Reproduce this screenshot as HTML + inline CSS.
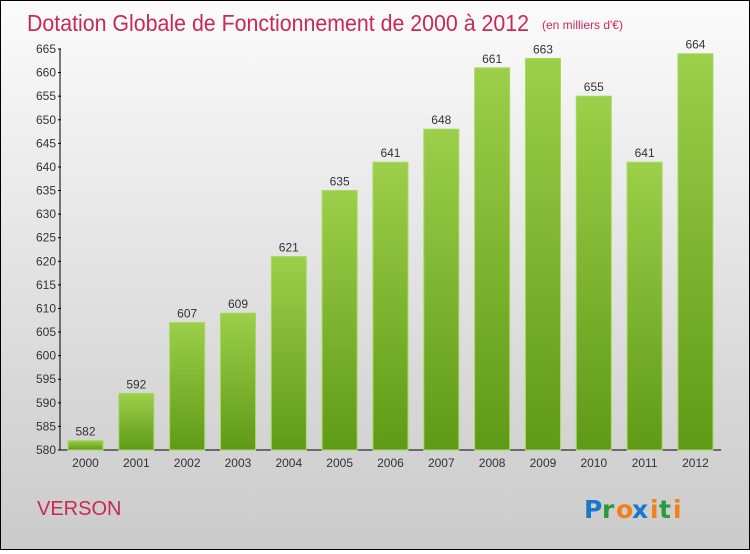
<!DOCTYPE html>
<html><head><meta charset="utf-8"><style>
body{margin:0;width:750px;height:550px;overflow:hidden;font-family:"Liberation Sans",sans-serif}
#wrap{position:relative;width:748px;height:548px;border:1px solid #000;background:linear-gradient(#fbfbfb,#d8d8d8 70%,#cbcbcb)}
</style></head><body>
<div id="wrap">
<svg id="chart" width="748" height="548">
<defs><linearGradient id="g" x1="0" y1="0" x2="0" y2="1"><stop offset="0" stop-color="#9ccf4a"/><stop offset="1" stop-color="#5f9a16"/></linearGradient></defs>
<text x="26" y="30" font-size="23" fill="#c8285a" textLength="502" lengthAdjust="spacingAndGlyphs">Dotation Globale de Fonctionnement de 2000 à 2012</text>
<text x="541" y="28" font-size="12" fill="#c8285a">(en milliers d'€)</text>
<text x="36" y="514" font-size="20" fill="#c8285a">VERSON</text>
<g font-size="25" font-weight="bold" font-family="'DejaVu Sans',sans-serif"><text x="583" y="517" fill="#1a78c8">P</text><text x="601" y="517" fill="#2a9a3a">r</text><text x="615" y="517" fill="#f08018">o</text><text x="631" y="517" fill="#1a78c8">x</text><text x="649" y="517" fill="#f08018">i</text><text x="658" y="517" fill="#2a9a3a">t</text><text x="672" y="517" fill="#f08018">i</text></g>
<g id="plot"></g>
</svg>
</div>
<script>
const years=["2000","2001","2002","2003","2004","2005","2006","2007","2008","2009","2010","2011","2012"];
const values=[582,592,607,609,621,635,641,648,661,663,655,641,664];
const yTicks=[580,585,590,595,600,605,610,615,620,625,630,635,640,645,650,655,660,665];
const ns="http://www.w3.org/2000/svg";
const g=document.getElementById('plot');
const y=v=>449-(v-580)*(449-48)/85;
const x=i=>84.5+i*50.83;
function mk(t,a){const e=document.createElementNS(ns,t);for(const k in a)e.setAttribute(k,a[k]);g.appendChild(e);return e;}
const ax=mk('path',{d:'M59 48V449H720',stroke:'#000',fill:'none'});


yTicks.forEach(v=>{
 const l=mk('line',{x1:57,x2:60,y1:y(v),y2:y(v),stroke:'#000'});
 
 
 const t=mk('text',{x:55,y:y(v)+4,'font-size':12,fill:'#333','text-anchor':'end'});
 t.textContent=v;
 
 
});
years.forEach((yr,i)=>{
 const v=values[i];
 const r=mk('rect',{x:x(i)-17.5,y:y(v),width:35,height:449-y(v),fill:'url(#g)',stroke:'#a8d860','stroke-width':1});
 
 
 const t=mk('text',{x:x(i),y:y(v)-5,'font-size':12,fill:'#333','text-anchor':'middle'});
 t.textContent=v;
 
 
 const l=mk('text',{x:x(i),y:466,'font-size':12,fill:'#333','text-anchor':'middle'});
 l.textContent=yr;
 
 
});
</script>
</body></html>
